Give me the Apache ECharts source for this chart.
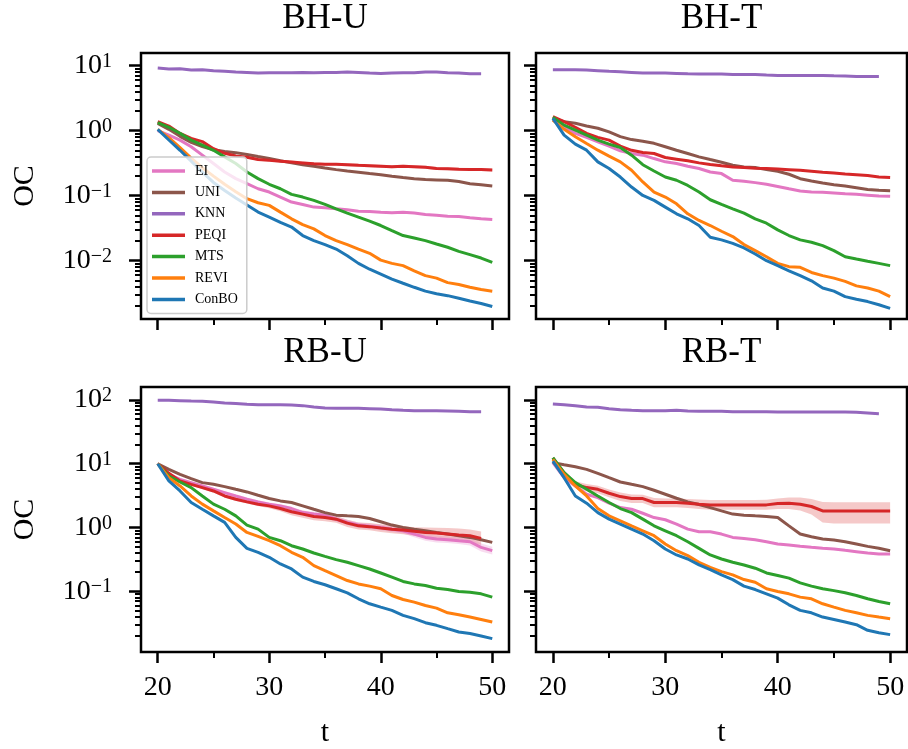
<!DOCTYPE html>
<html><head><meta charset="utf-8">
<script src="https://cdn.jsdelivr.net/npm/echarts@6/dist/echarts.min.js"></script>
<style>html,body{margin:0;padding:0;background:#fff}#c{width:908px;height:749px}</style>
</head><body><div id="c"></div>
<script>
// ---------- data ----------
const tValues = [20,21,22,23,24,25,26,27,28,29,30,31,32,33,34,35,36,37,38,39,40,41,42,43,44,45,46,47,48,49,50];
const methods = ['EI','UNI','KNN','PEQI','MTS','REVI','ConBO'];
const panelTitles = ['BH-U','BH-T','RB-U','RB-T'];
const xTickLabels = [20,30,40,50];
const xMinorTicks = [25,35,45];
const yMajorTop = [0.01,0.1,1,10];
const yMinorTop = [0.002,0.003,0.004,0.005,0.006,0.007,0.008,0.009,0.02,0.03,0.04,0.05,0.06,0.07,0.08,0.09,0.2,0.3,0.4,0.5,0.6,0.7,0.8,0.9,2,3,4,5,6,7,8,9];
const yMajorBottom = [0.1,1,10,100];
const yMinorBottom = [0.02,0.03,0.04,0.05,0.06,0.07,0.08,0.09,0.2,0.3,0.4,0.5,0.6,0.7,0.8,0.9,2,3,4,5,6,7,8,9,20,30,40,50,60,70,80,90];

// BH-U
const EI_BHU = [1.0,0.857,0.717,0.566,0.421,0.313,0.232,0.183,0.153,0.128,0.114,0.0953,0.0798,0.0734,0.0668,0.0652,0.0629,0.0608,0.0579,0.0573,0.0559,0.0546,0.0559,0.054,0.0514,0.0502,0.0485,0.0479,0.0457,0.0441,0.0431];
const UNI_BHU = [1.3,1.05,0.82,0.66,0.57,0.51,0.48,0.46,0.43,0.40,0.373,0.345,0.32,0.30,0.284,0.267,0.252,0.24,0.23,0.22,0.211,0.20,0.19,0.183,0.177,0.175,0.173,0.165,0.153,0.147,0.141];
const KNN_BHU = [9.2,8.9,9.0,8.6,8.7,8.4,8.2,8.0,7.9,7.7,7.8,7.8,7.8,7.9,7.8,7.9,7.9,8.0,7.9,7.7,7.6,7.7,7.8,7.8,8.0,8.0,7.8,7.7,7.5,7.5];
const PEQI_BHU = [1.38,1.18,0.91,0.76,0.68,0.53,0.45,0.41,0.39,0.36,0.35,0.34,0.33,0.32,0.31,0.305,0.305,0.30,0.294,0.29,0.285,0.28,0.285,0.28,0.275,0.262,0.26,0.256,0.253,0.253,0.249];
const MTS_BHU = [1.33,1.13,0.91,0.717,0.60,0.50,0.396,0.313,0.232,0.183,0.150,0.128,0.105,0.0953,0.0847,0.0734,0.0629,0.054,0.0468,0.0406,0.0348,0.0291,0.0244,0.0224,0.0204,0.0181,0.0161,0.0139,0.0124,0.011,0.0094];
const REVI_BHU = [1.05,0.78,0.55,0.38,0.27,0.2,0.15,0.115,0.09,0.078,0.071,0.0559,0.0441,0.036,0.0309,0.0244,0.0204,0.0177,0.0151,0.013,0.0102,0.0091,0.0084,0.0070,0.0059,0.0054,0.0046,0.0043,0.0039,0.0036,0.0034];
const CONBO_BHU = [1.05,0.72,0.5,0.34,0.23,0.16,0.12,0.092,0.072,0.056,0.047,0.039,0.033,0.0244,0.0204,0.0177,0.0151,0.0119,0.0091,0.0074,0.0062,0.0052,0.0045,0.0039,0.0034,0.0031,0.0029,0.00265,0.0024,0.0022,0.00197];
const PEQI_BHU_LOW = [1.38,1.16,0.89,0.74,0.66,0.515,0.435,0.395,0.375,0.345,0.335,0.325,0.315,0.305,0.295,0.29,0.29,0.285,0.279,0.275,0.27,0.265,0.27,0.265,0.26,0.248,0.246,0.242,0.239,0.239,0.236];
const PEQI_BHU_HIGH = [1.38,1.2,0.93,0.78,0.7,0.545,0.465,0.425,0.405,0.375,0.365,0.355,0.345,0.335,0.325,0.32,0.32,0.315,0.309,0.305,0.3,0.295,0.3,0.295,0.29,0.276,0.274,0.27,0.267,0.267,0.262];

// BH-T
const EI_BHT = [1.46,1.13,0.91,0.79,0.676,0.58,0.49,0.446,0.421,0.373,0.332,0.313,0.284,0.262,0.232,0.219,0.173,0.167,0.159,0.15,0.139,0.128,0.118,0.114,0.113,0.11,0.107,0.105,0.102,0.0988,0.0977];
const UNI_BHT = [1.55,1.38,1.30,1.18,1.09,0.96,0.81,0.73,0.69,0.64,0.566,0.50,0.446,0.396,0.36,0.328,0.294,0.277,0.271,0.252,0.238,0.214,0.183,0.169,0.157,0.148,0.141,0.133,0.125,0.121,0.119];
const KNN_BHT = [8.7,8.7,8.7,8.6,8.4,8.2,8.1,7.9,7.7,7.7,7.7,7.6,7.5,7.45,7.45,7.45,7.35,7.35,7.35,7.2,7.1,7.1,7.1,7.1,7.1,7.0,6.95,6.85,6.85,6.85];
const PEQI_BHT = [1.65,1.38,1.13,0.91,0.79,0.717,0.58,0.50,0.462,0.446,0.387,0.365,0.344,0.32,0.302,0.288,0.277,0.271,0.265,0.262,0.258,0.252,0.246,0.238,0.23,0.224,0.216,0.211,0.204,0.194,0.19];
const MTS_BHT = [1.61,1.22,1.02,0.857,0.717,0.622,0.552,0.42,0.3,0.24,0.194,0.173,0.144,0.114,0.0867,0.0734,0.0629,0.054,0.0441,0.0378,0.0298,0.0244,0.0209,0.0192,0.0171,0.0143,0.0115,0.0106,0.0098,0.0091,0.0084];
const REVI_BHT = [1.46,1.05,0.81,0.637,0.502,0.406,0.332,0.246,0.163,0.114,0.0953,0.0752,0.0527,0.0416,0.0348,0.0284,0.0235,0.0177,0.0143,0.0115,0.0091,0.0081,0.0079,0.0066,0.0059,0.0054,0.0048,0.0041,0.0038,0.0034,0.0028];
const CONBO_BHT = [1.55,0.857,0.622,0.502,0.332,0.262,0.194,0.136,0.101,0.0847,0.0668,0.0527,0.0441,0.0348,0.023,0.0209,0.0185,0.0157,0.0127,0.01,0.0084,0.007,0.0059,0.0049,0.0038,0.0034,0.0028,0.00255,0.00235,0.0021,0.00185];

// RB-U
const EI_RBU = [10,6.81,5.69,5.05,4.48,3.97,3.52,3.12,2.77,2.52,2.32,2.18,1.98,1.71,1.62,1.56,1.35,1.2,1.09,1.04,1.0,0.94,0.887,0.787,0.698,0.66,0.642,0.619,0.597,0.487,0.432];
const UNI_RBU = [10,8.15,6.81,5.83,5.05,4.75,4.37,3.97,3.61,3.2,2.84,2.61,2.46,2.18,1.93,1.71,1.56,1.52,1.49,1.38,1.23,1.09,1.0,0.94,0.887,0.835,0.787,0.741,0.698,0.642,0.583];
const KNN_RBU = [98.8,98.8,97.6,96.4,95.3,93,89.8,87.8,85.7,84.6,84.6,84.6,83.6,81.6,77.6,75.0,74.1,74.1,74.1,73.2,72.3,70.6,69.0,68.1,68.1,68.1,67.3,66.5,65.7,65.7];
const PEQI_RBU = [10,7.06,5.36,4.75,4.22,3.74,3.12,2.77,2.52,2.32,2.18,1.98,1.76,1.62,1.49,1.43,1.35,1.17,1.06,1.03,0.98,0.94,0.91,0.87,0.835,0.815,0.787,0.758,0.741,0.673];
const MTS_RBU = [10,6.42,5.17,4.22,3.12,2.32,1.93,1.52,1.09,0.94,0.698,0.619,0.517,0.459,0.397,0.352,0.313,0.284,0.252,0.223,0.193,0.166,0.142,0.130,0.123,0.111,0.106,0.0988,0.0964,0.0908,0.0806];
const REVI_RBU = [10,6.04,4.48,3.12,2.32,1.82,1.43,1.13,0.835,0.723,0.619,0.517,0.407,0.34,0.252,0.21,0.176,0.147,0.13,0.12,0.109,0.0856,0.0741,0.0673,0.0597,0.0542,0.0458,0.0427,0.0392,0.036,0.0328];
const CONBO_RBU = [10,5.36,3.74,2.46,1.93,1.52,1.2,0.698,0.47,0.407,0.34,0.267,0.223,0.166,0.142,0.126,0.109,0.0942,0.0759,0.0634,0.0562,0.0499,0.0417,0.037,0.032,0.0291,0.0258,0.0229,0.0216,0.0198,0.018];
const PEQI_RBU_LOW = [10,6.8,5.1,4.5,4.0,3.55,2.95,2.6,2.38,2.18,2.0,1.8,1.55,1.42,1.3,1.25,1.18,1.02,0.93,0.9,0.85,0.81,0.78,0.74,0.69,0.66,0.63,0.6,0.58,0.53];
const PEQI_RBU_HIGH = [10,7.3,5.6,5.0,4.45,3.95,3.3,2.95,2.68,2.48,2.38,2.18,1.98,1.85,1.7,1.62,1.52,1.32,1.2,1.17,1.12,1.08,1.05,1.01,1.0,0.99,0.98,0.96,0.93,0.86];
const EI_RBU_LOW = [10,6.5,5.45,4.8,4.27,3.78,3.35,2.95,2.6,2.37,2.18,2.05,1.85,1.58,1.49,1.43,1.23,1.09,0.99,0.94,0.9,0.85,0.8,0.7,0.62,0.58,0.57,0.55,0.52,0.42,0.375];
const EI_RBU_HIGH = [10,7.1,5.95,5.3,4.7,4.15,3.7,3.3,2.95,2.68,2.47,2.32,2.12,1.85,1.76,1.7,1.48,1.32,1.2,1.15,1.1,1.04,0.98,0.88,0.78,0.74,0.72,0.7,0.68,0.56,0.5];

// RB-T
const EI_RBT = [10.4,6.04,4.48,3.32,2.94,2.4,2.05,1.93,1.67,1.43,1.32,1.13,0.94,0.855,0.855,0.787,0.698,0.673,0.642,0.597,0.549,0.53,0.505,0.487,0.47,0.459,0.437,0.417,0.397,0.383,0.383];
const UNI_RBT = [10.4,9.64,8.98,8.15,7.06,6.04,5.17,4.75,4.37,3.83,3.32,2.87,2.52,2.29,2.05,1.82,1.62,1.56,1.52,1.49,1.43,1.06,0.787,0.715,0.66,0.634,0.597,0.549,0.505,0.47,0.432];
const KNN_RBT = [86.6,84.6,81.5,77.8,76.8,73.2,70.6,69.0,68.1,68.1,68.1,69.0,67.3,66.5,66.5,66.5,65.7,65.7,65.7,65.7,64.9,64.9,64.9,64.9,64.9,64.9,64.9,64.1,62.6,61.1];
const PEQI_RBT = [12.4,7.2,4.75,4.22,3.97,3.44,3.05,2.84,2.84,2.46,2.46,2.46,2.4,2.32,2.26,2.26,2.26,2.26,2.26,2.26,2.37,2.4,2.32,2.13,1.82,1.82,1.82,1.82,1.82,1.82,1.82];
const MTS_RBT = [12.4,7.23,5.05,3.97,3.12,2.46,1.98,1.71,1.35,1.06,0.887,0.741,0.597,0.47,0.37,0.32,0.284,0.258,0.229,0.193,0.176,0.16,0.135,0.12,0.109,0.102,0.0942,0.0856,0.0759,0.069,0.0634];
const REVI_RBT = [11.7,6.81,4.48,3.12,1.98,1.52,1.27,1.06,0.887,0.741,0.549,0.432,0.361,0.284,0.237,0.203,0.18,0.152,0.138,0.109,0.0988,0.0908,0.0806,0.0759,0.0634,0.0562,0.0499,0.0458,0.0417,0.0392,0.037];
const CONBO_RBT = [11.0,6.04,3.12,2.4,1.71,1.35,1.13,0.94,0.787,0.619,0.459,0.37,0.32,0.258,0.218,0.18,0.152,0.12,0.106,0.0908,0.0778,0.0611,0.0499,0.0458,0.0392,0.036,0.0328,0.0298,0.0243,0.0223,0.0208];
const PEQI_RBT_LOW = [12.4,6.6,4.25,3.7,3.45,2.98,2.6,2.42,2.42,2.08,2.08,2.08,2.02,1.95,1.9,1.9,1.9,1.9,1.9,1.9,1.95,1.95,1.85,1.6,1.2,1.15,1.15,1.15,1.15,1.15,1.15];
const PEQI_RBT_HIGH = [12.4,7.8,5.3,4.8,4.5,3.95,3.55,3.3,3.25,2.9,2.85,2.85,2.8,2.75,2.7,2.7,2.7,2.7,2.7,2.72,2.85,2.95,2.95,2.8,2.5,2.48,2.48,2.48,2.48,2.48,2.48];

// ---------- assembly ----------
const colors = {EI:'#e377c2',UNI:'#8c564b',KNN:'#9467bd',PEQI:'#d62728',MTS:'#2ca02c',REVI:'#ff7f0e',ConBO:'#1f77b4'};
const panelData = [
  {EI:EI_BHU,UNI:UNI_BHU,KNN:KNN_BHU,PEQI:PEQI_BHU,MTS:MTS_BHU,REVI:REVI_BHU,ConBO:CONBO_BHU},
  {EI:EI_BHT,UNI:UNI_BHT,KNN:KNN_BHT,PEQI:PEQI_BHT,MTS:MTS_BHT,REVI:REVI_BHT,ConBO:CONBO_BHT},
  {EI:EI_RBU,UNI:UNI_RBU,KNN:KNN_RBU,PEQI:PEQI_RBU,MTS:MTS_RBU,REVI:REVI_RBU,ConBO:CONBO_RBU},
  {EI:EI_RBT,UNI:UNI_RBT,KNN:KNN_RBT,PEQI:PEQI_RBT,MTS:MTS_RBT,REVI:REVI_RBT,ConBO:CONBO_RBT}
];
const panelBands = [
  [{m:'PEQI',lo:PEQI_BHU_LOW,hi:PEQI_BHU_HIGH}],
  [],
  [{m:'PEQI',lo:PEQI_RBU_LOW,hi:PEQI_RBU_HIGH},{m:'EI',lo:EI_RBU_LOW,hi:EI_RBU_HIGH}],
  [{m:'PEQI',lo:PEQI_RBT_LOW,hi:PEQI_RBT_HIGH}]
];

const FONT = 'Liberation Serif';
const gridsPos = [
  {left:141, top:53, width:368, height:266},
  {left:536, top:53, width:371, height:266},
  {left:141, top:387, width:368, height:267},
  {left:536, top:387, width:371, height:267}
];
const yRange = [[0.001268, 15.7],[0.001268, 15.7],[0.0111, 160],[0.0111, 160]];

function expLabel(v){
  const e = Math.round(Math.log10(v));
  return '{b|10}{s|' + (e < 0 ? '\u2212' + (-e) : String(e)) + '}';
}

const grid = [], xAxis = [], yAxis = [], series = [], title = [];
for (let i = 0; i < 4; i++) {
  const g = gridsPos[i];
  const leftCol = (i % 2 === 0), bottomRow = (i >= 2);
  grid.push(Object.assign({show:true, borderColor:'#000', borderWidth:2.5, backgroundColor:'rgba(0,0,0,0)', containLabel:false}, g));
  title.push({text: panelTitles[i], left: g.left + g.width/2, top: bottomRow ? 335 : 1, textAlign:'center', padding:0,
    textStyle:{fontFamily:FONT, fontSize:35, fontWeight:'normal', color:'#000'}});
  xAxis.push({gridIndex:i, type:'value', min:18.5, max:51.5, position:'bottom',
    axisLine:{show:false}, splitLine:{show:false},
    axisTick:{show:true, customValues:xTickLabels, length:11, lineStyle:{color:'#000', width:2.5}},
    axisLabel:{show:bottomRow, customValues:xTickLabels, margin:22, fontFamily:FONT, fontSize:28, color:'#000'},
    name: bottomRow ? 't' : '', nameLocation:'middle', nameGap:66,
    nameTextStyle:{fontFamily:FONT, fontSize:30, color:'#000'}});
  xAxis.push({gridIndex:i, type:'value', min:18.5, max:51.5, position:'bottom',
    axisLine:{show:false}, splitLine:{show:false},
    axisTick:{show:true, customValues:xMinorTicks, length:6, lineStyle:{color:'#000', width:2}},
    axisLabel:{show:false}});
  const majors = bottomRow ? yMajorBottom : yMajorTop;
  const minors = bottomRow ? yMinorBottom : yMinorTop;
  yAxis.push({gridIndex:i, type:'log', logBase:10, min:yRange[i][0], max:yRange[i][1], position:'left',
    axisLine:{show:false}, splitLine:{show:false}, minorTick:{show:false},
    axisTick:{show:true, customValues:majors, length:12, lineStyle:{color:'#000', width:2.5}},
    axisLabel:{show:leftCol, customValues:majors, margin:29, formatter:expLabel,
      rich:{b:{fontFamily:FONT, fontSize:28, lineHeight:28, color:'#000', verticalAlign:'middle'},
            s:{fontFamily:FONT, fontSize:20, lineHeight:14, color:'#000', verticalAlign:'top'}}},
    name: leftCol ? 'OC' : '', nameLocation:'middle', nameRotate:90, nameGap:101,
    nameTextStyle:{fontFamily:FONT, fontSize:30, color:'#000'}});
  yAxis.push({gridIndex:i, type:'log', logBase:10, min:yRange[i][0], max:yRange[i][1], position:'left',
    axisLine:{show:false}, splitLine:{show:false},
    axisTick:{show:true, customValues:minors, length:6, lineStyle:{color:'#000', width:2}},
    axisLabel:{show:false}});

  // uncertainty bands (drawn as one polygon per band)
  panelBands[i].forEach((b) => {
    series.push({type:'custom', name:'_band', xAxisIndex:2*i, yAxisIndex:2*i, silent:true, z:1,
      data: b.lo.map((v, j) => [tValues[j], v, b.hi[j]]),
      encode:{x:0, y:[1,2]},
      renderItem:(params, api) => {
        if (params.dataIndex !== 0) return null;
        const pts = [];
        for (let j = 0; j < b.lo.length; j++) pts.push(api.coord([tValues[j], b.lo[j]]));
        for (let j = b.hi.length - 1; j >= 0; j--) pts.push(api.coord([tValues[j], b.hi[j]]));
        return {type:'polygon', shape:{points:pts}, style:{fill:colors[b.m], opacity:0.25}};
      }});
  });
  methods.forEach((m, k) => {
    const arr = panelData[i][m];
    series.push({type:'line', name:m, xAxisIndex:2*i, yAxisIndex:2*i, symbol:'none', showSymbol:false,
      color:colors[m], lineStyle:{color:colors[m], width:3}, z:2 + k*0.01, silent:true,
      data: arr.map((v, j) => [tValues[j], v])});
  });
}

const chart = echarts.init(document.getElementById('c'), null, {renderer:'canvas'});
chart.setOption({
  animation:false,
  backgroundColor:'#fff',
  title, grid, xAxis, yAxis, series,
  legend:{data:methods, orient:'vertical', left:147, top:157, itemWidth:33, itemHeight:3.5, icon:'rect',
    itemGap:7.4, padding:[7,9,7,5], backgroundColor:'rgba(255,255,255,0.8)', borderColor:'#cccccc',
    borderWidth:1.5, borderRadius:4, selectedMode:false, z:10,
    textStyle:{fontFamily:FONT, fontSize:14, color:'#000', padding:[0,0,0,5]}}
});
</script></body></html>
